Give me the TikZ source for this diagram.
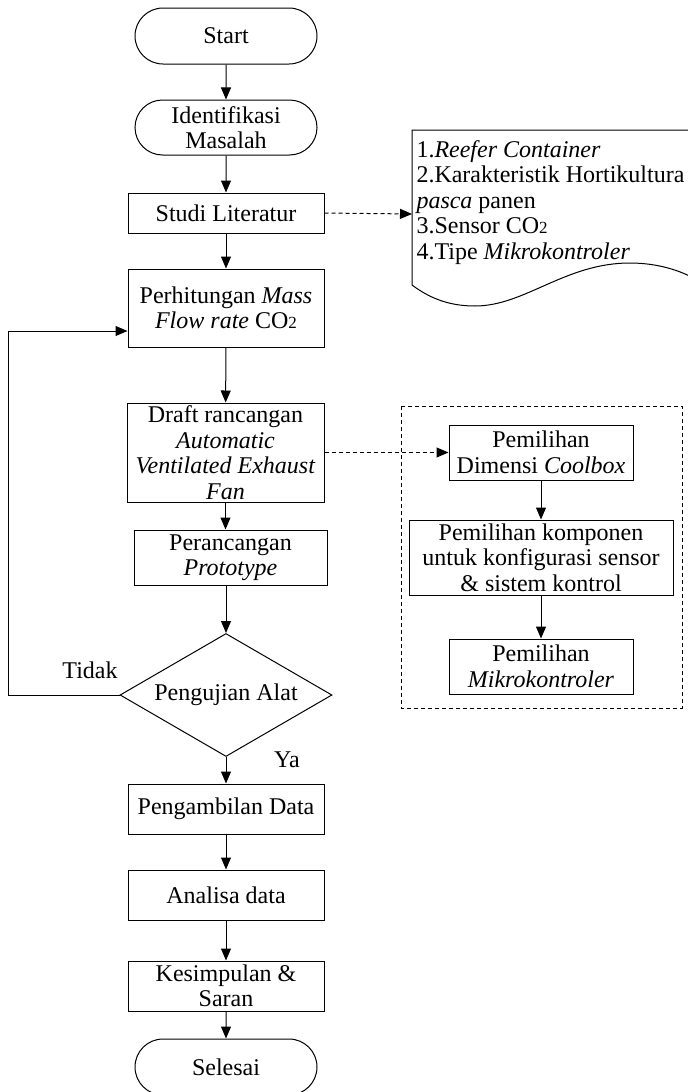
\documentclass[tikz,border=0pt]{standalone}
\usepackage{fontspec}
\setmainfont{Liberation Serif}
\usetikzlibrary{shapes.misc,shapes.geometric,arrows.meta}
\newcommand{\cotwo}{CO{\fontsize{8.5}{9}\selectfont 2}}

\begin{document}
\begin{tikzpicture}[x=0.5pt,y=-0.5pt,
  every node/.style={font=\fontsize{12}{12.75}\selectfont},
  terminal/.style={draw,rounded rectangle,minimum width=91pt,minimum height=28pt,inner sep=0pt,align=center},
  proses/.style={draw,rectangle,minimum width=98pt,inner sep=0pt,align=center},
  keputusan/.style={draw,diamond,aspect=1.72,minimum width=106pt,minimum height=61.5pt,inner sep=0pt},
  panah/.style={-{Triangle[length=6pt,width=5pt]},line width=0.5pt},
  putus/.style={panah,dash pattern=on 2pt off 1.5pt},
  line width=0.5pt]
  \useasboundingbox (0,0) rectangle (687,1092);
  % 主流程
  \node[terminal] (start) at (226,36) {Start};
  \node[terminal,minimum height=27.5pt] (ident) at (226,127.5) {Identifikasi\\Masalah};
  \node[proses,minimum height=20pt] (studi) at (226,213) {Studi Literatur};
  \node[proses,minimum height=39pt] (hitung) at (226,308) {Perhitungan \textit{Mass}\\\textit{Flow rate} \cotwo};
  \node[proses,minimum width=98.5pt,minimum height=49.5pt] (draft) at (225.5,452.5)
    {Draft rancangan\\\textit{Automatic}\\\textit{Ventilated Exhaust}\\\textit{Fan}};
  \node[proses,minimum width=96.5pt,minimum height=27.5pt] (rancang) at (230.5,557.5) {Perancangan\\\textit{Prototype}};
  \node[keputusan] (uji) at (226,695) {Pengujian Alat};
  \node[proses,minimum height=25pt] (ambil) at (226,809) {Pengambilan Data};
  \node[proses,minimum height=25pt] (analisa) at (226,895) {Analisa data};
  \node[proses,minimum height=25pt] (simpul) at (226,986) {Kesimpulan \&\\Saran};
  \node[terminal] (selesai) at (226,1067) {Selesai};
  % 箭头
  \draw[panah] (start) -- (ident);
  \draw[panah] (ident) -- (studi);
  \draw[panah] (studi) -- (hitung);
  \draw[panah] (hitung) -- (draft);
  \draw[panah] (draft.south) -- (draft.south |- rancang.north);
  \draw[panah] (rancang.south -| uji.north) -- (uji.north);
  \draw[panah] (uji) -- (ambil);
  \draw[panah] (ambil) -- (analisa);
  \draw[panah] (analisa) -- (simpul);
  \draw[panah] (simpul) -- (selesai);
  % 反馈
  \coordinate (kiri) at (8,695);
  \draw[panah] (uji.west) -- (kiri) |- ([yshift=-11.5pt]hitung.west);
  \node (tidak) at (90,670) {Tidak};
  \node (ya) at (287,760) {Ya};
  % 文献
  \draw (700,130) -- (412,130) -- (412,285)
    .. controls (432,300) and (452,306) .. (475,306)
    .. controls (525,306) and (565,263) .. (630,263)
    .. controls (660,263) and (685,272) .. (700,282);
  \node[anchor=north west,inner sep=0pt,align=left] (pustaka) at (416,140)
    {1.\textit{Reefer Container}\\2.Karakteristik Hortikultura\\\textit{pasca} panen\\3.Sensor \cotwo\\4.Tipe \textit{Mikrokontroler}};
  \coordinate (pustakakiri) at (412,214);
  \draw[putus] (studi.east) -- (pustakakiri);
  % 设计细节
  \draw[dash pattern=on 2pt off 1.5pt] (401,406) rectangle (682,708);
  \node[proses,minimum width=92pt,minimum height=27.5pt] (coolbox) at (541,452.5) {Pemilihan\\Dimensi \textit{Coolbox}};
  \node[proses,minimum width=132pt,minimum height=37.5pt] (komponen) at (541,557.5)
    {Pemilihan komponen\\untuk konfigurasi sensor\\\& sistem kontrol};
  \node[proses,minimum width=92pt,minimum height=27.5pt] (mikro) at (541,666.5) {Pemilihan\\\textit{Mikrokontroler}};
  \draw[putus] (draft.east) -- (coolbox.west);
  \draw[panah] (coolbox) -- (komponen);
  \draw[panah] (komponen) -- (mikro);
\end{tikzpicture}
\end{document}
